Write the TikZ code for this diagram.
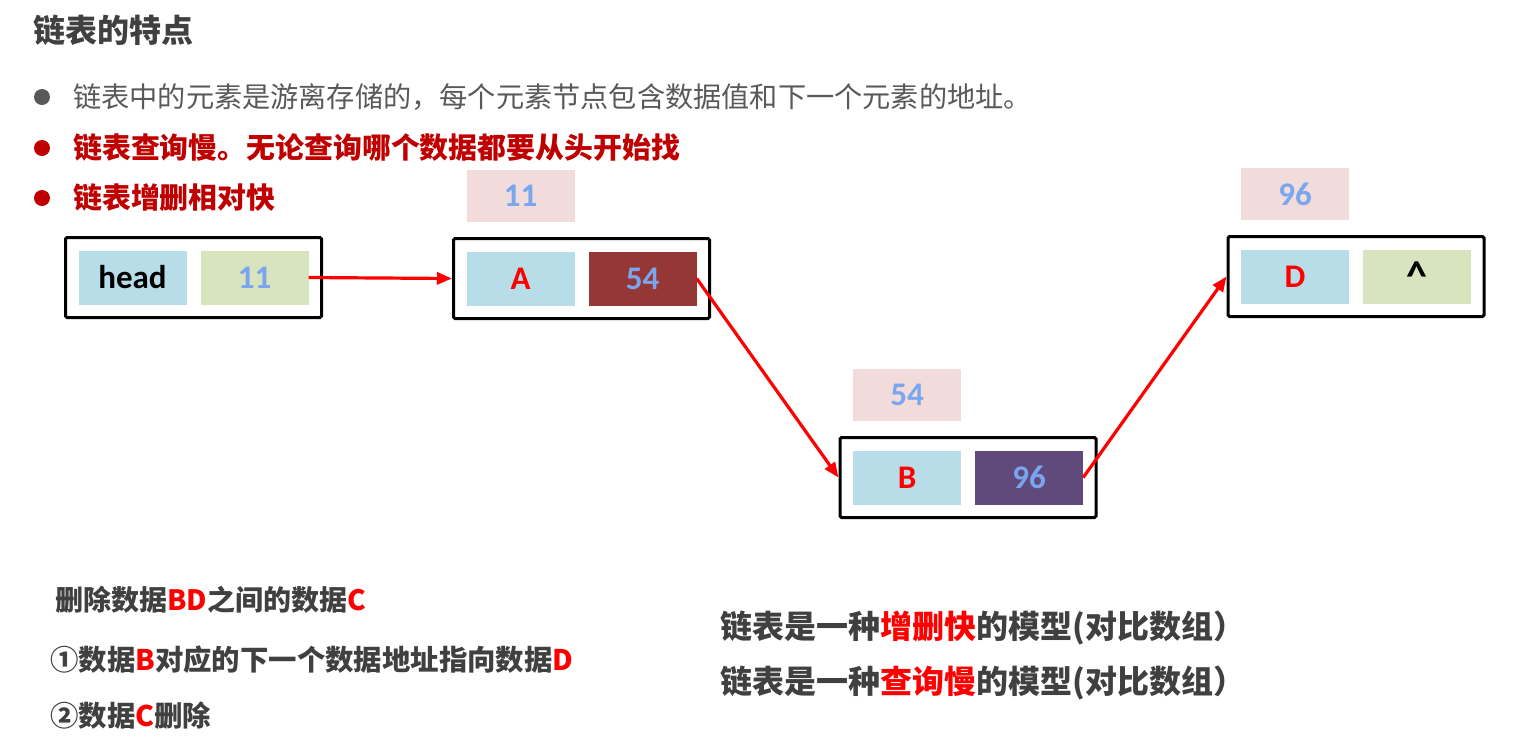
\documentclass[tikz,border=0pt]{standalone}
\usepackage{fontspec}
\setmainfont{Carlito}
\newfontfamily\cjk{Noto Sans CJK SC}
\usepackage{tikz}
\usetikzlibrary{arrows.meta,positioning}
\definecolor{Ink}{HTML}{404040}
\definecolor{Muted}{HTML}{595959}
\definecolor{DarkRed}{HTML}{C00000}
\definecolor{Hot}{HTML}{FF0000}
\definecolor{CellBlue}{HTML}{B7DDE8}
\definecolor{CellGreen}{HTML}{D7E4BD}
\definecolor{CellWine}{HTML}{953735}
\definecolor{CellPlum}{HTML}{604A7B}
\definecolor{TagPink}{HTML}{F2DCDB}
\definecolor{Digit}{HTML}{7AA6F0}
\tikzset{
  listbox/.style={draw=black,line width=3pt,rounded corners=1.5pt,minimum width=256pt,minimum height=80pt,fill=white,inner sep=0pt},
  cell/.style={minimum width=108pt,minimum height=54pt,inner sep=0pt,font=\fontsize{33}{33}\selectfont\bfseries},
  datacell/.style={cell,fill=CellBlue,text=Hot},
  nextcell/.style={cell,text=Digit},
  addrtag/.style={cell,fill=TagPink,minimum height=52pt,text=Digit},
  link/.style={-{Triangle[length=15pt,width=12pt]},line width=3.2pt,draw=Hot},
  line/.style={anchor=west,inner sep=0pt,text=Ink,font=\cjk\bfseries\fontsize{28}{28}\selectfont},
  dot/.style={circle,inner sep=0pt,minimum size=16pt}
}

\begin{document}
\begin{tikzpicture}[x=1pt,y=-1pt]
  \useasboundingbox (0,0) rectangle (1529,748);
  % heading and bullets
  \node[line,font=\cjk\bfseries\fontsize{32}{32}\selectfont] (title) at (33,30) {链表的特点};
  \node[dot,fill=Muted] (dot1) at (42,97) {};
  \node[dot,fill=DarkRed] (dot2) at (42,148) {};
  \node[dot,fill=DarkRed] (dot3) at (42,198) {};
  \node[line,text=Muted,font=\cjk\fontsize{28.2}{28.2}\selectfont] (point1) at (73,97) {链表中的元素是游离存储的，每个元素节点包含数据值和下一个元素的地址。};
  \node[line,text=DarkRed,font=\cjk\bfseries\fontsize{28.9}{28.9}\selectfont] (point2) at (73,148) {链表查询慢。无论查询哪个数据都要从头开始找};
  \node[line,text=DarkRed,font=\cjk\bfseries\fontsize{28.9}{28.9}\selectfont] (point3) at (73,198) {链表增删相对快};

  % list nodes
  \node[listbox] (headbox) at (193.5,277.5) {};
  \node[datacell,text=black,xshift=-61pt] (head) at (headbox) {head};
  \node[nextcell,fill=CellGreen,xshift=61pt] (headnext) at (headbox) {11};

  \node[listbox] (Abox) at (581.5,278.5) {};
  \node[datacell,xshift=-61pt] (A) at (Abox) {A};
  \node[nextcell,fill=CellWine,xshift=61pt] (Anext) at (Abox) {54};
  \node[addrtag,above=29pt of A] (tagA) {11};

  \node[listbox] (Bbox) at (968,477.5) {};
  \node[datacell,xshift=-61pt] (B) at (Bbox) {B};
  \node[nextcell,fill=CellPlum,xshift=61pt] (Bnext) at (Bbox) {96};
  \node[addrtag,above=29pt of B] (tagB) {54};

  \node[listbox] (Dbox) at (1356,276.5) {};
  \node[datacell,xshift=-61pt] (D) at (Dbox) {D};
  \node[nextcell,fill=CellGreen,text=black,xshift=61pt] (Dnext) at (Dbox) {\fontsize{42}{42}\selectfont\^{}};
  \node[addrtag,above=29pt of D] (tagD) {96};

  \draw[link] (headnext.east) -- (Abox.west);
  \draw[link] (Anext.east) -- (Bbox.west);
  \draw[link] (Bnext.east) -- (Dbox.west);

  % notes
  \node[line] (del) at (55,600) {删除数据\textcolor{Hot}{BD}之间的数据\textcolor{Hot}{C}};
  \node[line,font=\cjk\bfseries\fontsize{28.4}{28.4}\selectfont] (step1) at (50,660) {①数据\textcolor{Hot}{B}对应的下一个数据地址指向数据\textcolor{Hot}{D}};
  \node[line,font=\cjk\bfseries\fontsize{28.4}{28.4}\selectfont] (step2) at (50,716) {②数据\textcolor{Hot}{C}删除};
  \node[line,font=\cjk\bfseries\fontsize{32}{32}\selectfont] (fast) at (720,628) {链表是一种\textcolor{Hot}{增删快}的模型(对比数组）};
  \node[line,font=\cjk\bfseries\fontsize{32}{32}\selectfont] (slow) at (720,683) {链表是一种\textcolor{Hot}{查询慢}的模型(对比数组）};
\end{tikzpicture}
\end{document}
